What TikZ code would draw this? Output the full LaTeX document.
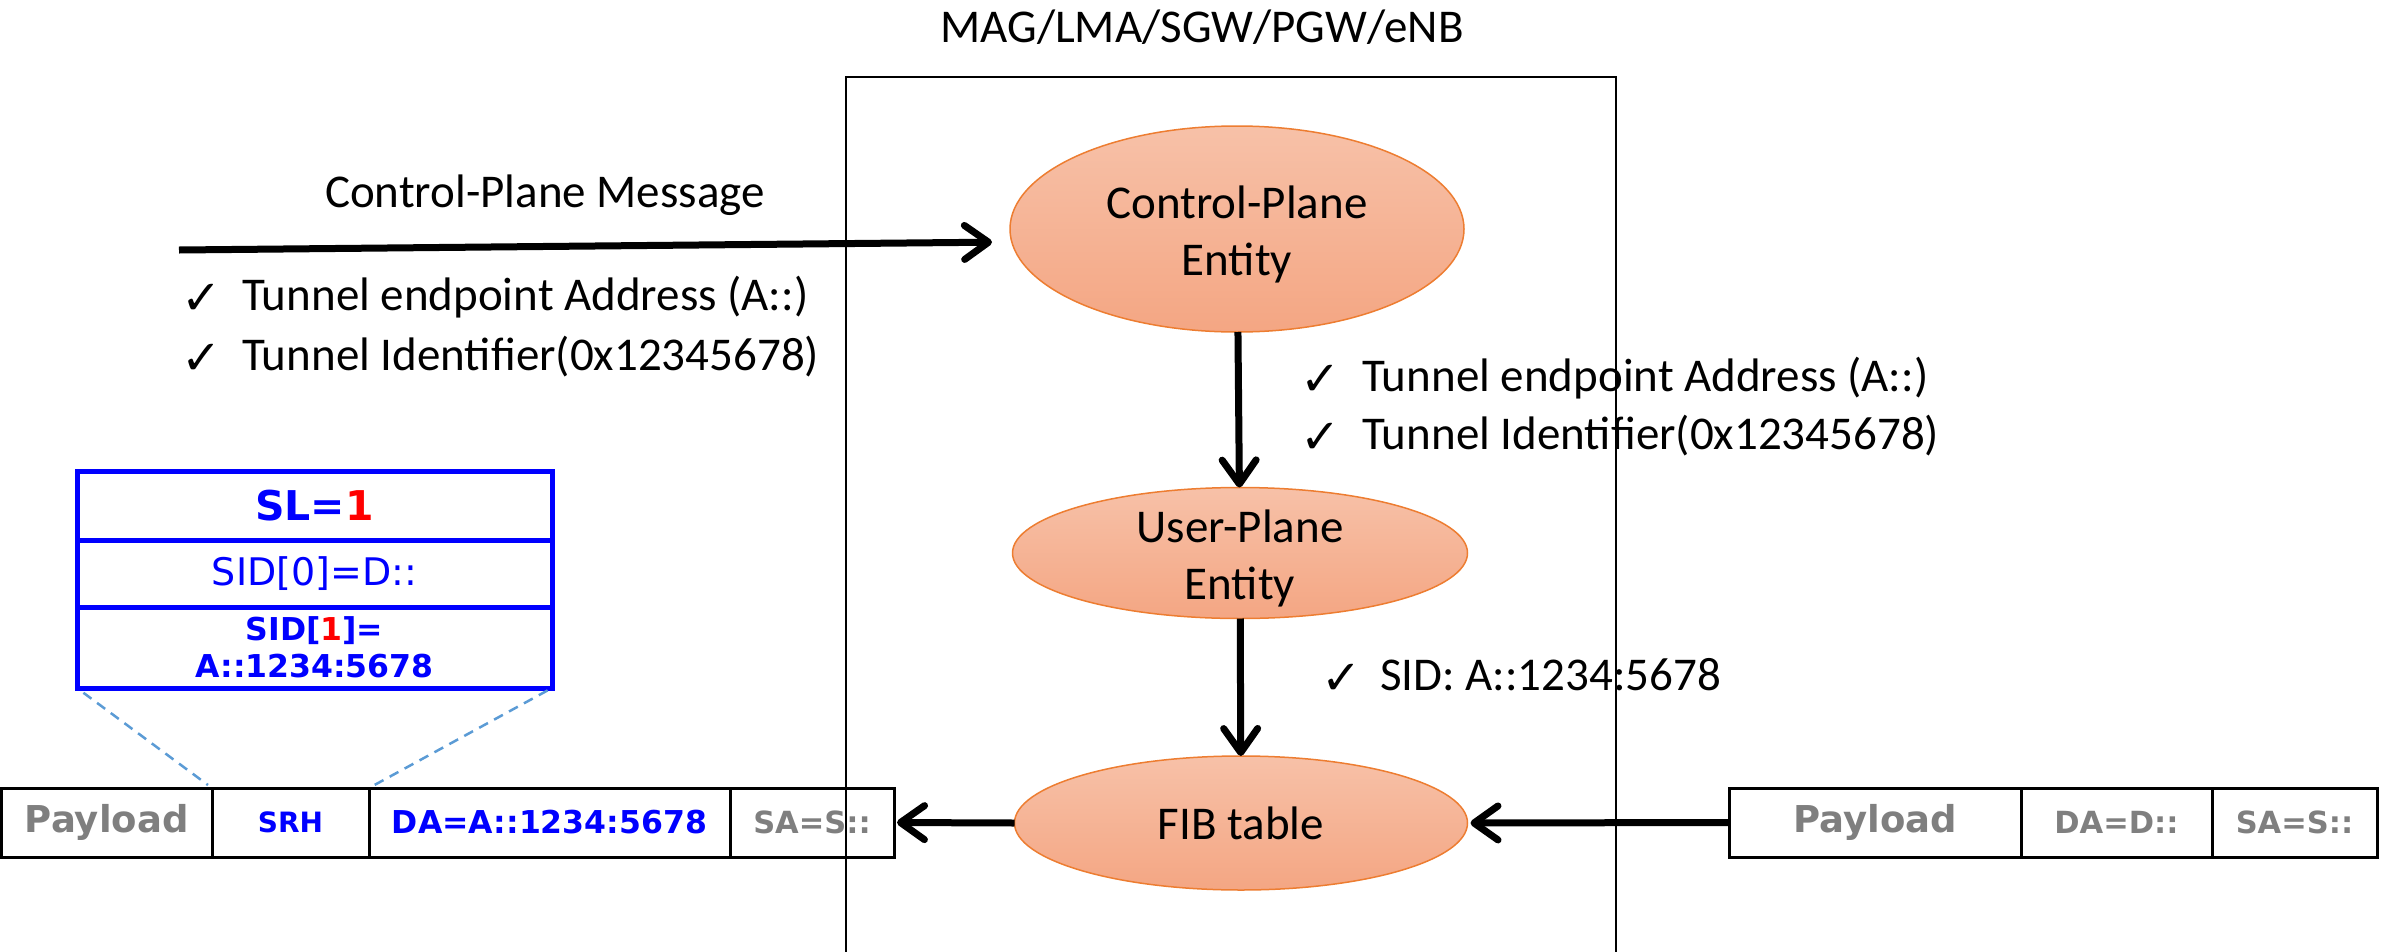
\documentclass[tikz,border=0pt]{standalone}
\usepackage{fontspec}
\setmainfont{Carlito}
\newfontfamily\dvsans{DejaVu Sans}
\usetikzlibrary{shapes.geometric,arrows.meta}
\definecolor{nodeedge}{HTML}{ED7D31}
\definecolor{nodetop}{HTML}{F7C1A8}
\definecolor{nodebot}{HTML}{F4A683}
\definecolor{srblue}{RGB}{0,0,255}
\definecolor{srred}{RGB}{255,0,0}
\definecolor{pktgray}{HTML}{7F7F7F}
\definecolor{guide}{HTML}{5B9BD5}
\begin{document}
\begin{tikzpicture}[x=1pt,y=-1pt,
  every node/.style={inner sep=0pt, outer sep=0pt},
  body/.style={font=\fontsize{47}{57}\selectfont},
  entity/.style={ellipse, draw=nodeedge, line width=1.5pt, top color=nodetop, bottom color=nodebot},
  flow/.style={line width=7pt, -{Straight Barb[round,length=24pt,width=34pt]}},
  tick/.style={font=\dvsans\fontsize{48}{52}\selectfont},
  item/.style={anchor=west, body, text height=36pt, text depth=12pt},
  cell/.style={draw, line width=3pt, minimum height=69pt, anchor=north west},
  graycell/.style={cell, text=pktgray},
  bluecell/.style={cell, text=srblue},
  srhrow/.style={draw=srblue, line width=5pt, text=srblue, anchor=north west, minimum width=475pt, align=center},
  dashguide/.style={draw=guide, line width=2.5pt, dash pattern=on 10pt off 7pt}
]
\useasboundingbox (0,0) rectangle (2386,951);

% packet leaving the node (left)
\node[graycell, minimum width=210.5pt, font=\dvsans\bfseries\fontsize{37}{42}\selectfont] (lp1) at (1.5,788) {Payload};
\node[bluecell, minimum width=157pt, font=\dvsans\bfseries\fontsize{28}{32}\selectfont] (lp2) at (212,788) {SRH};
\node[bluecell, minimum width=361pt, font=\dvsans\bfseries\fontsize{31.5}{36}\selectfont] (lp3) at (369,788) {DA=A::1234:5678};
\node[graycell, minimum width=164pt, font=\dvsans\bfseries\fontsize{30.5}{36}\selectfont] (lp4) at (730,788) {SA=S::};

% packet entering the node (right)
\node[graycell, minimum width=292pt, font=\dvsans\bfseries\fontsize{37}{42}\selectfont] (rp1) at (1729,788) {Payload};
\node[graycell, minimum width=191pt, font=\dvsans\bfseries\fontsize{30.5}{36}\selectfont] (rp2) at (2021,788) {DA=D::};
\node[graycell, minimum width=165pt, font=\dvsans\bfseries\fontsize{30.5}{36}\selectfont] (rp3) at (2212,788) {SA=S::};

% segment routing header contents
\node[srhrow, minimum height=69pt, font=\dvsans\bfseries\fontsize{41}{46}\selectfont] (sl) at (77,471) {SL=\textcolor{srred}{1}};
\node[srhrow, minimum height=67pt, font=\dvsans\fontsize{38}{44}\selectfont] (sid0) at (77,540) {SID[0]=D::};
\node[srhrow, minimum height=81pt, font=\dvsans\bfseries\fontsize{31.5}{37}\selectfont] (sid1) at (77,607) {SID[\textcolor{srred}{1}]=\\A::1234:5678};

\draw[dashguide, shorten <=8pt, shorten >=5pt] (sid1.south west) -- (lp2.north west);
\draw[dashguide, shorten <=5pt, shorten >=5pt] (sid1.south east) -- (lp3.north west);

% entities
\node[entity, minimum width=454pt, minimum height=206pt] (cp) at (1237,229) {};
\node[body, align=center] (cplabel) at ([yshift=-5pt]cp.center) {Control-Plane\\Entity};
\node[entity, minimum width=455pt, minimum height=131pt] (up) at (1240,553) {};
\node[body, align=center] (uplabel) at ([yshift=-5pt]up.center) {User-Plane\\Entity};
\node[entity, minimum width=453pt, minimum height=134pt] (fib) at (1241,823) {};
\node[body] (fiblabel) at (fib.center) {FIB table};

% labels
\node[body] (title) at (1202,27) {MAG/LMA/SGW/PGW/eNB};
\node[body] (msg) at (545,195) {Control-Plane Message};

\node[tick] (t1) at (202,299) {✓};
\node[item] (l1) at (242,298) {Tunnel endpoint Address (A::)};
\node[tick] (t2) at (202,359) {✓};
\node[item] (l2) at (242,358) {Tunnel Identifier(0x12345678)};

\node[tick] (t3) at (1321,380) {✓};
\node[item] (r1) at (1362,379) {Tunnel endpoint Address (A::)};
\node[tick] (t4) at (1321,438) {✓};
\node[item] (r2) at (1362,437) {Tunnel Identifier(0x12345678)};

\node[tick] (t5) at (1342,679) {✓};
\node[item] (s1) at (1380,678) {SID: A::1234:5678};

% node boundary
\node[draw, line width=2.5pt, minimum width=770pt, minimum height=885pt, anchor=north west] (box) at (846,77) {};

% connectors
\coordinate (msgfrom) at (179,250);
\draw[flow, shorten >=18pt] (msgfrom) -- ([yshift=-13pt]cp.west);
\draw[flow] (cp) -- (up);
\draw[flow] (up) -- (fib);
\draw[flow, shorten >=3pt] (fib.west) -- (lp4.east);
\draw[flow, shorten >=3pt] (rp1.west) -- (fib.east);
\end{tikzpicture}
\end{document}
